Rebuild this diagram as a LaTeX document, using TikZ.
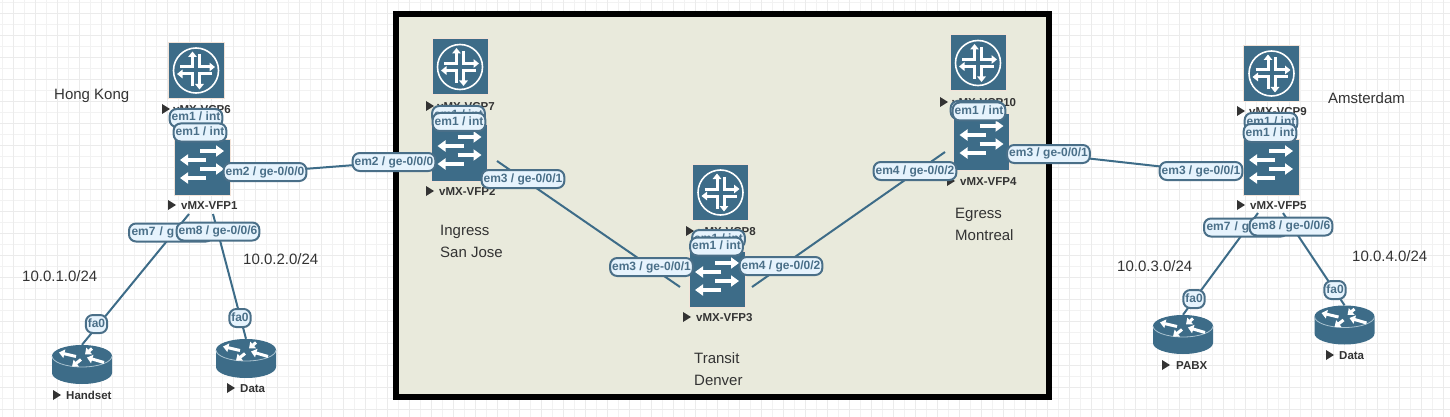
\documentclass[tikz,border=0pt]{standalone}
\usepackage{fontspec}
\setmainfont{Liberation Sans}
\usetikzlibrary{arrows.meta}
\definecolor{devblue}{HTML}{3D6C88}
\definecolor{tagfill}{HTML}{E6F3FD}
\definecolor{tagtext}{HTML}{4A6F88}
\definecolor{zonefill}{HTML}{E9EADC}
\definecolor{edgepeach}{HTML}{F3E3D8}
\definecolor{rimblue}{HTML}{A9C2CF}
\tikzset{
	x=1pt, y=-1pt,
	gridminor/.style={draw=black!5, line width=1pt},
	gridmajor/.style={draw=black!8, line width=1pt},
	link/.style={draw=devblue, line width=2pt},
	tag/.style={draw=tagtext, line width=2pt, fill=tagfill, rounded corners=7pt, text=tagtext, font=\bfseries\fontsize{12}{14}\selectfont, inner xsep=2pt, inner ysep=0pt, text height=9pt, text depth=3pt, minimum height=18pt},
	cuttag/.style={tag, minimum width=84pt, align=left, text width=79pt},
	site/.style={anchor=west, inner sep=0pt, text=black!80, font=\fontsize{15}{18}\selectfont, text height=11pt, text depth=0pt},
	devname/.style={anchor=west, inner sep=0pt, text=black!80, font=\bfseries\fontsize{11.5}{14}\selectfont, text height=8.5pt, text depth=0pt},
	devbox/.style={fill=devblue, draw=edgepeach, line width=1pt, minimum size=56pt, inner sep=0pt},
	routerbox/.style={minimum width=60pt, minimum height=39pt, inner sep=0pt},
	whitearrow/.style={draw=white, line width=3.5pt, -{Triangle[length=8pt,width=11pt]}},
	thinarrow/.style={whitearrow, line width=3pt, -{Triangle[length=5.5pt,width=8.5pt]}},
	pics/playmark/.style={code={\fill[black!80] (-4,-5) -- (4,0) -- (-4,5) -- cycle;}},
	pics/vcpmark/.style={code={
		\draw[white, line width=1.6pt] (0,0) circle (22.5pt);
		\draw[thinarrow] (-16,-3.5) -- (-3.5,-3.5) -- (-3.5,-19);
		\draw[thinarrow] (3.5,-16) -- (3.5,-3.5) -- (19,-3.5);
		\draw[thinarrow] (16,3.5) -- (3.5,3.5) -- (3.5,19);
		\draw[thinarrow] (-3.5,16) -- (-3.5,3.5) -- (-19,3.5);
	}},
	pics/vfpmark/.style={code={
		\draw[whitearrow] (-2,-16) -- (22,-16);
		\draw[whitearrow] (4,-7) -- (-22,-7);
		\draw[whitearrow] (-2,2) -- (22,2);
		\draw[whitearrow] (4,11) -- (-22,11);
	}},
	pics/routermark/.style={code={
		\fill[devblue] (-30,-8.5) -- (-30,8.5) arc[start angle=180, end angle=360, x radius=30pt, y radius=11pt] -- (30,-8.5) -- cycle;
		\fill[devblue] (0,-8.5) ellipse [x radius=30pt, y radius=11pt];
		\draw[rimblue, line width=.8pt] (-30,-8.5) arc[start angle=180, end angle=360, x radius=30pt, y radius=11pt];
		\draw[thinarrow] (-6,-8) -- (-23,-12);
		\draw[thinarrow] (10,-16) -- (3,-10);
		\draw[thinarrow] (22,-2) -- (5,-7);
		\draw[thinarrow] (-1,-5) -- (-10,2);
	}},
}

\begin{document}
\begin{tikzpicture}
	\useasboundingbox (0,0) rectangle (1450,417);
	\fill[white] (0,0) rectangle (1450,417);

	% grid
	\foreach \gx in {0,...,131}
		\draw[gridminor] ({2.5+11*\gx},0) -- ({2.5+11*\gx},417);
	\foreach \gy in {0,...,37}
		\draw[gridminor] (0,{2.5+11*\gy}) -- (1450,{2.5+11*\gy});
	\foreach \gx in {0,...,65}
		\draw[gridmajor] ({13.5+22*\gx},0) -- ({13.5+22*\gx},417);
	\foreach \gy in {0,...,18}
		\draw[gridmajor] (0,{13.5+22*\gy}) -- (1450,{13.5+22*\gy});

	% zone
	\draw[fill=zonefill, line width=6pt] (396,14) rectangle (1049,397);

	% devices
	\node (vcp6) [devbox] at (196,70.5) {};
	\node (vcp7) [devbox] at (460,67) {};
	\node (vcp8) [devbox] at (720.5,192.5) {};
	\node (vcp10) [devbox] at (978,63) {};
	\node (vcp9) [devbox] at (1271.5,73.5) {};
	\foreach \dev in {vcp6,vcp7,vcp8,vcp10,vcp9}
		\pic at (\dev) {vcpmark};

	\node (vfp1) [devbox] at (202,167) {};
	\node (vfp2) [devbox] at (459.5,153) {};
	\node (vfp3) [devbox] at (717,279) {};
	\node (vfp4) [devbox] at (981.5,142) {};
	\node (vfp5) [devbox] at (1271,167) {};
	\foreach \dev in {vfp1,vfp2,vfp3,vfp4,vfp5}
		\pic at (\dev) {vfpmark};

	\node (handset) [routerbox] at (82,364.5) {};
	\node (data1) [routerbox] at (246,358.5) {};
	\node (pabx) [routerbox] at (1183,334.5) {};
	\node (data2) [routerbox] at (1344.5,325) {};
	\foreach \dev in {handset,data1,pabx,data2}
		\pic at (\dev) {routermark};

	% names
	\node (vcp6 name) [devname] at (173,109) {vMX-VCP6};
	\node (vcp7 name) [devname] at (437,106) {vMX-VCP7};
	\node (vcp8 name) [devname] at (698,231) {vMX-VCP8};
	\node (vcp10 name) [devname] at (952,102) {vMX-VCP10};
	\node (vcp9 name) [devname] at (1249,111) {vMX-VCP9};
	\node (vfp1 name) [devname] at (181,205) {vMX-VFP1};
	\node (vfp2 name) [devname] at (439,191) {vMX-VFP2};
	\node (vfp3 name) [devname] at (696,317) {vMX-VFP3};
	\node (vfp4 name) [devname] at (960,181) {vMX-VFP4};
	\node (vfp5 name) [devname] at (1250,205) {vMX-VFP5};
	\node (handset name) [devname] at (66,395) {Handset};
	\node (data1 name) [devname] at (240,388) {Data};
	\node (pabx name) [devname] at (1176,365) {PABX};
	\node (data2 name) [devname] at (1339,355) {Data};
	\pic at (166,109) {playmark};
	\pic at (430,106) {playmark};
	\pic at (690,231) {playmark};
	\pic at (944,102) {playmark};
	\pic at (1241,111) {playmark};
	\pic at (172,205) {playmark};
	\pic at (430,191) {playmark};
	\pic at (687,317) {playmark};
	\pic at (951,181) {playmark};
	\pic at (1241,205) {playmark};
	\pic at (57,395) {playmark};
	\pic at (231,388) {playmark};
	\pic at (1166,365) {playmark};
	\pic at (1330,355) {playmark};

	% free ends of the links
	\coordinate (vfp1 e) at (265,172);
	\coordinate (vfp1 sw) at (189,214);
	\coordinate (vfp1 se) at (213,214);
	\coordinate (vfp2 w) at (394,162);
	\coordinate (vfp2 se) at (497,161);
	\coordinate (vfp3 sw) at (680,287);
	\coordinate (vfp3 se) at (752,287);
	\coordinate (vfp4 sw) at (945,152);
	\coordinate (vfp4 e) at (1048.5,154);
	\coordinate (vfp5 w) at (1201,171);
	\coordinate (vfp5 sw) at (1258,213);
	\coordinate (vfp5 se) at (1283,213);

	\draw[link] (vfp1 e) -- (vfp2 w);
	\draw[link] (vfp2 se) -- (vfp3 sw);
	\draw[link] (vfp3 se) -- (vfp4 sw);
	\draw[link] (vfp4 e) -- (vfp5 w);
	\draw[link] (vfp1 sw) -- (handset.north);
	\draw[link] (vfp1 se) -- (data1.north);
	\draw[link] (vfp5 sw) -- (pabx.north);
	\draw[link] (vfp5 se) -- (data2.north);

	% tags
	\node (vcp6 em1) [tag] at (196,118) {em1 / int};
	\node (vfp1 em1) [tag] at (200,132.5) {em1 / int};
	\node (vfp1 em2) [tag] at (265,172) {em2 / ge-0/0/0};
	\node (vcp7 em1) [tag] at (458.5,115) {em1 / int};
	\node (vfp2 em1) [tag] at (459,122) {em1 / int};
	\node (vfp2 em2) [tag] at (394,162) {em2 / ge-0/0/0};
	\node (vfp2 em3) [tag] at (523,179) {em3 / ge-0/0/1};
	\node (vcp8 em1) [tag] at (718.5,239) {em1 / int};
	\node (vfp3 em1) [tag] at (716.5,246.5) {em1 / int};
	\node (vfp3 em3) [tag] at (651.5,267) {em3 / ge-0/0/1};
	\node (vfp3 em4) [tag] at (781,266) {em4 / ge-0/0/2};
	\node (vcp10 em1) [tag] at (977,110) {em1 / int};
	\node (vfp4 em1) [tag] at (979,111.5) {em1 / int};
	\node (vfp4 em4) [tag] at (915,171) {em4 / ge-0/0/2};
	\node (vfp4 em3) [tag] at (1048.5,154) {em3 / ge-0/0/1};
	\node (vcp9 em1) [tag] at (1271,122) {em1 / int};
	\node (vfp5 em1) [tag] at (1270,133) {em1 / int};
	\node (vfp5 em3) [tag] at (1201,171) {em3 / ge-0/0/1};
	\node (vfp1 em7) [cuttag] at (171,232.5) {em7 / g};
	\node (vfp1 em8) [tag] at (218,231.5) {em8 / ge-0/0/6};
	\node (vfp5 em7) [cuttag] at (1246,227.5) {em7 / g};
	\node (vfp5 em8) [tag] at (1291,226.5) {em8 / ge-0/0/6};
	\node (handset fa0) [tag] at (96.5,324) {fa0};
	\node (data1 fa0) [tag] at (240,318) {fa0};
	\node (pabx fa0) [tag] at (1194,299) {fa0};
	\node (data2 fa0) [tag] at (1335,290) {fa0};

	% places
	\node (hong kong) [site] at (54,94) {Hong Kong};
	\node (amsterdam) [site] at (1328,98) {Amsterdam};
	\node (net1) [site] at (22,276) {10.0.1.0/24};
	\node (net2) [site] at (243,259) {10.0.2.0/24};
	\node (net3) [site] at (1117,266) {10.0.3.0/24};
	\node (net4) [site] at (1352,256) {10.0.4.0/24};
	\node (ingress) [site] at (440,230) {Ingress};
	\node (san jose) [site] at (440,252) {San Jose};
	\node (transit) [site] at (694,358) {Transit};
	\node (denver) [site] at (694,380) {Denver};
	\node (egress) [site] at (955,213) {Egress};
	\node (montreal) [site] at (955,235) {Montreal};
\end{tikzpicture}
\end{document}
